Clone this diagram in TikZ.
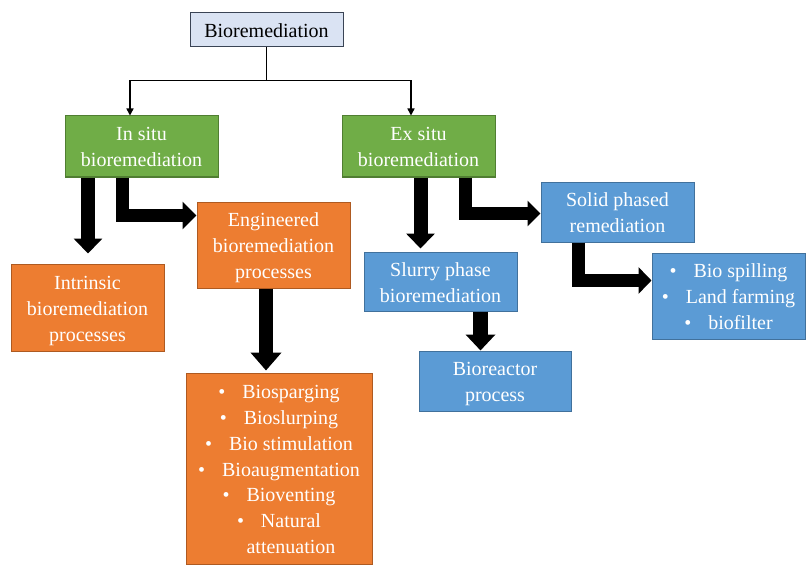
\documentclass[tikz,border=0pt]{standalone}
\usepackage{fontspec}
\setmainfont{Liberation Serif}
\newfontfamily\tnr{Liberation Serif}
\usetikzlibrary{arrows.meta}
\definecolor{grnfill}{HTML}{70AD47}
\definecolor{grnline}{HTML}{507E32}
\definecolor{orgfill}{HTML}{ED7D31}
\definecolor{orgline}{HTML}{AE5A21}
\definecolor{blufill}{HTML}{5B9BD5}
\definecolor{bluline}{HTML}{41719C}
\definecolor{topfill}{HTML}{DAE3F3}
\definecolor{topline}{HTML}{3A4455}
\newcommand{\blt}[1]{\makebox[24pt][l]{•}#1}
\newcommand{\ts}{\rule{0pt}{20pt}}
\newcommand{\bs}{\rule[-5pt]{0pt}{5pt}}
\begin{document}
\begin{tikzpicture}[x=1pt,y=-1pt,
  box/.style={draw, line width=1pt, inner sep=0pt, align=center, text=white,
    font=\tnr\fontsize{20}{26}\selectfont, minimum width=153pt},
  greenbox/.style={box, fill=grnfill, draw=grnline, minimum height=61pt},
  orangebox/.style={box, fill=orgfill, draw=orgline},
  bluebox/.style={box, fill=blufill, draw=bluline, minimum height=60pt},
  thinarrow/.style={line width=1.5pt, -{Triangle[length=7pt,width=7pt]}},
  bigarrow/.style={line width=14pt, line join=miter, -{Triangle[length=15pt,width=28pt]}}
]
\useasboundingbox (0,0) rectangle (806,567);
\fill[white] (0,0) rectangle (806,567);

% boxes
\node[box, fill=topfill, draw=topline, text=black, minimum height=34pt] (top) at (266.5,30) {\ts Bioremediation\bs};
\node[greenbox] (insitu) at (141.5,146.5) {\ts In situ\\bioremediation\bs};
\node[greenbox] (exsitu) at (418.5,146.5) {\ts Ex situ\\bioremediation\bs};
\node[orangebox, minimum height=87pt] (intrinsic) at (87.5,307.5) {\ts Intrinsic\\bioremediation\\processes\bs};
\node[orangebox, minimum height=86pt] (eng) at (273.5,245) {\ts Engineered\\bioremediation\\processes\bs};
\node[orangebox, minimum width=186pt, minimum height=191pt, font=\tnr\fontsize{20}{25.8}\selectfont] (list1) at (279,468.5)
  {\ts\blt{Biosparging}\\\blt{Bioslurping}\\\blt{Bio stimulation}\\\blt{Bioaugmentation}\\\blt{Bioventing}\\\blt{Natural}\\\hspace*{24pt}attenuation\bs};
\node[bluebox, minimum height=59pt] (slurry) at (440.5,281.5) {\ts Slurry phase\\bioremediation\bs};
\node[bluebox, minimum width=152pt] (reactor) at (495,381) {\ts Bioreactor\\process\bs};
\node[bluebox] (solid) at (617.5,212) {\ts Solid phased\\remediation\bs};
\node[bluebox, minimum height=86pt] (list2) at (728.5,296) {\ts\blt{Bio spilling}\\\blt{Land farming}\\\blt{biofilter}\bs};

% thin connectors
\draw[line width=1.5pt] (top.south) -- ++(0,33) coordinate (j);
\draw[thinarrow] (j) -| ([xshift=-11.5pt]insitu.north);
\draw[thinarrow] (j) -| ([xshift=-7.5pt]exsitu.north);

% thick arrows
\coordinate (c1) at (88,0);
\coordinate (c2) at (122,215.5);
\coordinate (c3) at (266,0);
\coordinate (c4) at (420.5,0);
\coordinate (c5) at (465.5,213.5);
\coordinate (c6) at (480.5,0);
\coordinate (c7) at (578,280.5);

\draw[bigarrow, shorten >=10pt] (insitu.south -| c1) -- (intrinsic.north -| c1);
\draw[bigarrow, line width=13pt, -{Triangle[length=14pt,width=27pt]}] (insitu.south -| c2) |- (eng.west |- c2);
\draw[bigarrow, -{Triangle[length=18pt,width=30pt]}, shorten >=2pt] (eng.south -| c3) -- (list1.north -| c3);
\draw[bigarrow, shorten >=3pt] (exsitu.south -| c4) -- (slurry.north -| c4);
\draw[bigarrow, line width=13pt, -{Triangle[length=13pt,width=25pt]}] (exsitu.south -| c5) |- (solid.west |- c5);
\draw[bigarrow, line width=15pt, -{Triangle[length=16pt,width=29pt]}] (slurry.south -| c6) -- (reactor.north -| c6);
\draw[bigarrow, line width=13pt, -{Triangle[length=13pt,width=26pt]}] (solid.south -| c7) |- (list2.west |- c7);
\end{tikzpicture}
\end{document}
